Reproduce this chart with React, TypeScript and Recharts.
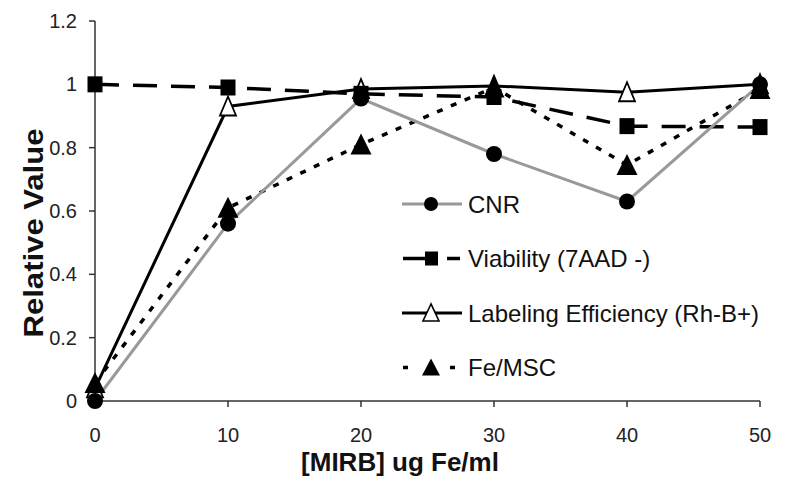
import React from "react";
import { LineChart, Line, XAxis, YAxis, Legend } from "recharts";

const xValues = [0, 10, 20, 30, 40, 50];
const cnr = [0, 0.56, 0.955, 0.78, 0.63, 1.0];
const viability = [1.0, 0.99, 0.97, 0.96, 0.868, 0.865];
const labeling = [0.04, 0.93, 0.985, 0.995, 0.975, 1.0];
const feMsc = [0.057, 0.61, 0.81, 0.99, 0.745, 0.985];

const xTicks = [0, 10, 20, 30, 40, 50];
const yTicks = [0, 0.2, 0.4, 0.6, 0.8, 1, 1.2];
const seriesNames = ["CNR", "Viability (7AAD -)", "Labeling Efficiency (Rh-B+)", "Fe/MSC"];
const xTitle = "[MIRB] ug Fe/ml";
const yTitle = "Relative Value";

const data = xValues.map((x, i) => ({
  x,
  cnr: cnr[i],
  via: viability[i],
  lab: labeling[i],
  fe: feMsc[i],
}));

const SquareDot = (p: any) => {
  const { cx, cy, index } = p;
  if (cx == null || cy == null) return <g key={`sq-${index}`} />;
  return <rect key={`sq-${index}`} x={cx - 7.5} y={cy - 8} width={15} height={16} fill="#000" />;
};

const FilledTri = (p: any) => {
  const { cx, cy, index } = p;
  if (cx == null || cy == null) return <g key={`ft-${index}`} />;
  return (
    <polygon
      key={`ft-${index}`}
      points={`${cx},${cy - 11} ${cx - 10.5},${cy + 10} ${cx + 10.5},${cy + 10}`}
      fill="#000"
    />
  );
};

const OpenTri = (p: any) => {
  const { cx, cy, index } = p;
  if (cx == null || cy == null) return <g key={`ot-${index}`} />;
  return (
    <polygon
      key={`ot-${index}`}
      points={`${cx},${cy - 10} ${cx - 8},${cy + 9} ${cx + 8},${cy + 9}`}
      fill="#fff"
      stroke="#000"
      strokeWidth={1.8}
    />
  );
};

const CircleDot = (p: any) => {
  const { cx, cy, index } = p;
  if (cx == null || cy == null) return <g key={`ci-${index}`} />;
  return <circle key={`ci-${index}`} cx={cx} cy={cy} r={8} fill="#000" />;
};

const LegendBox = () => {
  const rowY = (i: number) => 26 + i * 54.5;
  const textX = 74;
  return (
    <svg width={390} height={220} style={{ overflow: "visible" }}>
      {/* CNR */}
      <g>
        <line x1={8} x2={68} y1={rowY(0)} y2={rowY(0)} stroke="#999" strokeWidth={3} />
        <circle cx={37} cy={rowY(0)} r={7} fill="#000" />
        <text x={textX} y={rowY(0)} dominantBaseline="central" fontSize={24} fill="#111">
          {seriesNames[0]}
        </text>
      </g>
      {/* Viability */}
      <g>
        <line x1={9} x2={31} y1={rowY(1)} y2={rowY(1)} stroke="#000" strokeWidth={3.5} />
        <rect x={31} y={rowY(1) - 7} width={13} height={14} fill="#000" />
        <line x1={53} x2={66} y1={rowY(1)} y2={rowY(1)} stroke="#000" strokeWidth={3.5} />
        <text x={textX} y={rowY(1)} dominantBaseline="central" fontSize={24} fill="#111">
          {seriesNames[1]}
        </text>
      </g>
      {/* Labeling */}
      <g>
        <line x1={8} x2={68} y1={rowY(2)} y2={rowY(2)} stroke="#000" strokeWidth={3} />
        <polygon
          points={`37,${rowY(2) - 9} 29,${rowY(2) + 8} 45,${rowY(2) + 8}`}
          fill="#fff"
          stroke="#000"
          strokeWidth={1.6}
        />
        <text x={textX} y={rowY(2)} dominantBaseline="central" fontSize={24} fill="#111">
          {seriesNames[2]}
        </text>
      </g>
      {/* Fe/MSC */}
      <g>
        <line x1={9} x2={14} y1={rowY(3)} y2={rowY(3)} stroke="#000" strokeWidth={3.5} />
        <polygon
          points={`37,${rowY(3) - 9} 28,${rowY(3) + 8} 46,${rowY(3) + 8}`}
          fill="#000"
        />
        <line x1={56} x2={61} y1={rowY(3)} y2={rowY(3)} stroke="#000" strokeWidth={3.5} />
        <text x={textX} y={rowY(3)} dominantBaseline="central" fontSize={24} fill="#111">
          {seriesNames[3]}
        </text>
      </g>
    </svg>
  );
};

const YTitle = () => (
  <text
    x={25}
    y={225}
    transform="rotate(-90 25 225)"
    textAnchor="middle"
    dominantBaseline="central"
    fontSize={28}
    fontWeight="bold"
    fill="#111"
    textLength={209}
    lengthAdjust="spacingAndGlyphs"
  >
    {yTitle}
  </text>
);

const XTitle = () => (
  <text
    x={392}
    y={454}
    textAnchor="middle"
    dominantBaseline="central"
    fontSize={26}
    fontWeight="bold"
    fill="#111"
  >
    {xTitle}
  </text>
);

export default function App() {
  return (
    <div style={{ fontFamily: "'Liberation Sans', Arial, sans-serif", width: 777, height: 482 }}>
      <LineChart
        width={777}
        height={482}
        data={data}
        margin={{ top: 13, right: 25, left: 27, bottom: 29 }}
      >
        <XAxis
          dataKey="x"
          type="number"
          domain={[0, 50]}
          ticks={xTicks}
          interval={0}
          tickSize={6}
          tickMargin={21}
          height={60}
          axisLine={{ stroke: "#333", strokeWidth: 1.5 }}
          tickLine={{ stroke: "#333", strokeWidth: 1.5 }}
          tick={{ fontSize: 20, fill: "#222" }}
          label={<XTitle />}
        />
        <YAxis
          type="number"
          domain={[0, 1.2]}
          ticks={yTicks}
          interval={0}
          tickSize={6}
          tickMargin={12}
          width={60}
          axisLine={{ stroke: "#333", strokeWidth: 1.5 }}
          tickLine={{ stroke: "#333", strokeWidth: 1.5 }}
          tick={{ fontSize: 20, fill: "#222" }}
          tickFormatter={(v: number) => String(v)}
          label={<YTitle />}
        />
        <Legend
          layout="vertical"
          verticalAlign="middle"
          align="center"
          content={() => <LegendBox />}
          wrapperStyle={{ position: "absolute", left: 386, top: 170, width: 390, height: 220 }}
        />
        <Line
          type="linear"
          dataKey="lab"
          name={seriesNames[2]}
          stroke="#000"
          strokeWidth={3}
          dot={OpenTri}
          activeDot={false}
          isAnimationActive={false}
        />
        <Line
          type="linear"
          dataKey="via"
          name={seriesNames[1]}
          stroke="#000"
          strokeWidth={3.5}
          strokeDasharray="24 14"
          dot={SquareDot}
          activeDot={false}
          isAnimationActive={false}
        />
        <Line
          type="linear"
          dataKey="fe"
          name={seriesNames[3]}
          stroke="#000"
          strokeWidth={3.5}
          strokeDasharray="6 9"
          dot={FilledTri}
          activeDot={false}
          isAnimationActive={false}
        />
        <Line
          type="linear"
          dataKey="cnr"
          name={seriesNames[0]}
          stroke="#999"
          strokeWidth={3}
          dot={CircleDot}
          activeDot={false}
          isAnimationActive={false}
        />
      </LineChart>
    </div>
  );
}
